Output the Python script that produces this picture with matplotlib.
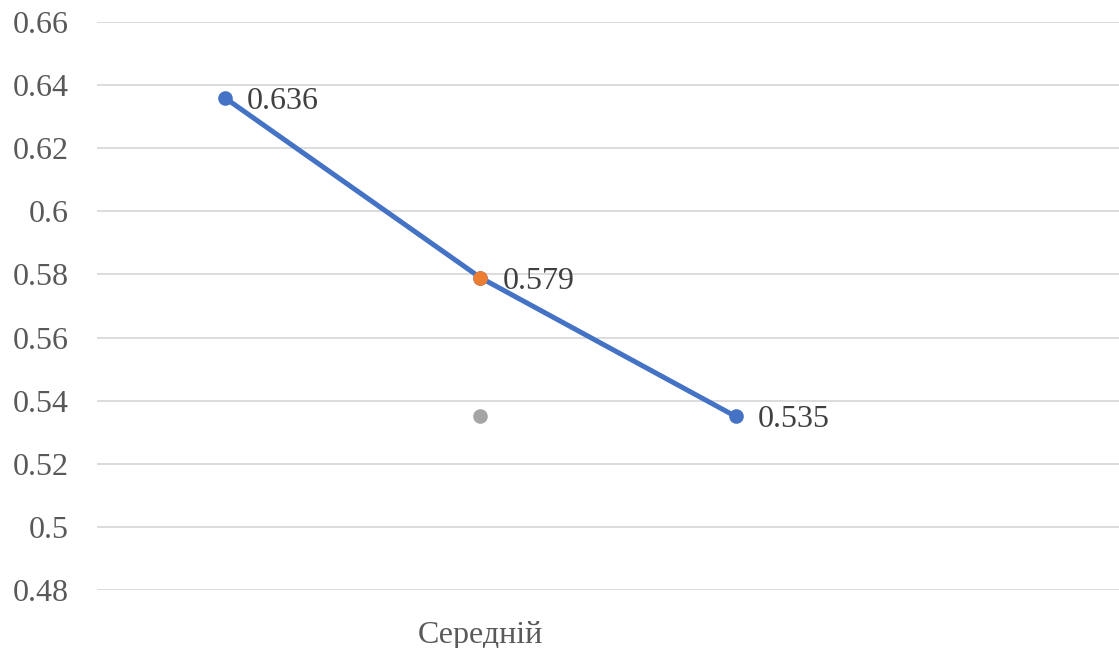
import matplotlib.pyplot as plt

# Значення показників
x_pos = [1, 2, 3]
blue_values = [0.636, 0.579, 0.535]
orange_x = [2]
orange_values = [0.579]
grey_x = [2]
grey_values = [0.535]
category = 'Середній'
y_ticks = [0.48, 0.5, 0.52, 0.54, 0.56, 0.58, 0.6, 0.62, 0.64, 0.66]
y_tick_labels = ['0.48', '0.5', '0.52', '0.54', '0.56', '0.58', '0.6', '0.62', '0.64', '0.66']

plt.rcParams['font.family'] = ['Liberation Serif', 'DejaVu Serif']

fig = plt.figure(figsize=(11.19, 6.48), dpi=100)
ax = fig.add_axes([97 / 1119, 58 / 648, 1 - 97 / 1119, 568 / 648])

ax.plot(x_pos, blue_values, '-o', color='#4472C4', linewidth=3.6, markersize=9.5, zorder=3)
ax.plot(orange_x, orange_values, 'o', color='#ED7D31', markersize=9.5, zorder=4)
ax.plot(grey_x, grey_values, 'o', color='#A5A5A5', markersize=9.5, zorder=4)

# Підписи значень
for x, y in [(x_pos[0], blue_values[0]), (x_pos[2], blue_values[2]), (orange_x[0], orange_values[0])]:
    ax.annotate(f'{y:.3f}', (x, y), textcoords='offset points', xytext=(16, -2.5),
                ha='left', va='center', fontsize=23, color='#404040', zorder=5)

ax.set_xlim(0.5, 4.5)
ax.set_ylim(0.48, 0.66)
ax.set_yticks(y_ticks)
ax.set_yticklabels(y_tick_labels)
ax.set_xticks([2])
ax.set_xticklabels([category])
ax.tick_params(axis='y', length=0, pad=20, labelsize=23, labelcolor='#595959')
ax.tick_params(axis='x', length=0, pad=22, labelsize=23, labelcolor='#595959')

ax.grid(axis='y', color='#D9D9D9', linewidth=1.3)
ax.set_axisbelow(True)
for s in ax.spines.values():
    s.set_visible(False)

fig.savefig('out.png', dpi=100)
